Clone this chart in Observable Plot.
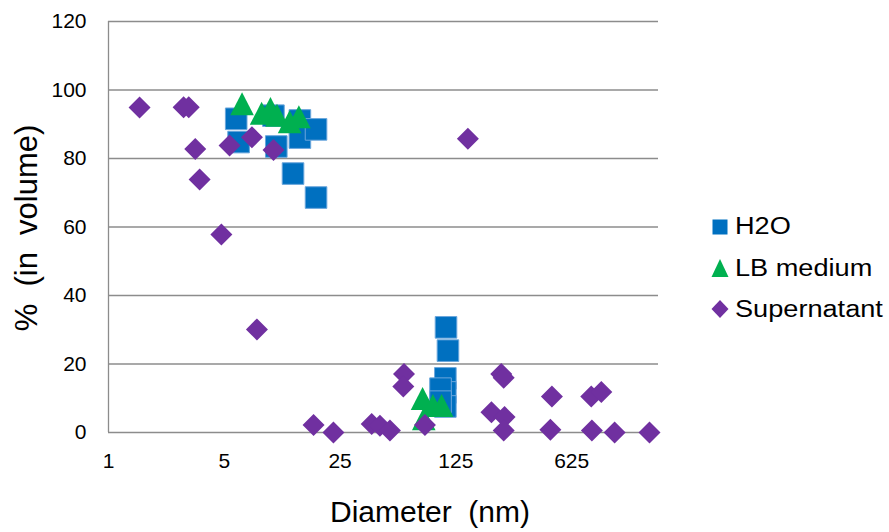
<!DOCTYPE html>
<html>
<head>
<meta charset="utf-8">
<script src="https://cdn.jsdelivr.net/npm/d3@7"></script>
<script src="https://cdn.jsdelivr.net/npm/@observablehq/plot@0.6"></script>
<style>
  html, body { margin: 0; padding: 0; background: #fff; }
  #wrap { position: relative; width: 889px; height: 532px; overflow: hidden; font-family: "Liberation Sans", Arial, sans-serif; color: #000; }
  #chart { position: absolute; left: 0; top: 0; }
  #chart svg text { font-size: 21px !important; font-family: "Liberation Sans", Arial, sans-serif !important; fill: #000; }
  .ttl { position: absolute; white-space: pre; font-family: "Liberation Sans", Arial, sans-serif; }
  .leg { position: absolute; left: 711px; font-size: 23px; white-space: pre; display: flex; align-items: center; }
  .leg svg { margin-right: 6px; }
  .leg span { display: inline-block; transform: scaleX(1.18); transform-origin: left center; }
</style>
</head>
<body>
<div id="wrap">
  <div id="chart"></div>
</div>
<script>
// ---- data ----
const seriesNames = ["H2O", "LB medium", "Supernatant"];
const seriesColors = ["#0070C0", "#00B050", "#7030A0"];

const h2oX = [5.9, 6.1, 9.9, 10.3, 14.3, 14.3, 17.9, 13.0, 17.9, 109, 112, 108, 108, 108, 101, 101];
const h2oY = [91.6, 84.8, 92.5, 83.5, 91.1, 86.1, 88.5, 75.6, 68.6, 30.7, 23.9, 15.8, 11.7, 7.6, 12.8, 9.0];

const lbX = [6.4, 8.4, 9.5, 10.4, 12.4, 14.1, 78.7, 90.8, 102.5, 80];
const lbY = [96.0, 93.2, 94.6, 92.6, 90.7, 92.2, 9.9, 7.9, 7.9, 4.0];

const snX = [1.54, 2.84, 3.05, 3.34, 3.55, 4.80, 5.38, 7.34, 9.91, 7.87, 17.3, 22.8, 38.8, 43.5, 50, 60.8, 60.2, 81.3, 147.7, 235, 243, 205, 246, 243, 475, 465, 821, 944, 828, 1136, 1844];
const snY = [94.9, 95, 95, 82.8, 73.9, 57.8, 83.8, 86.2, 82.5, 30.1, 2.2, 0, 2.5, 2, 0.6, 17.1, 13.4, 2.2, 85.8, 17.1, 16, 5.9, 4.5, 0.6, 10.5, 0.8, 10.5, 11.8, 0.6, 0, 0];

const xTicks = [1, 5, 25, 125, 625];
const yTicks = [0, 20, 40, 60, 80, 100, 120];

// ---- tables built from the arrays ----
const h2o = h2oX.map((x, i) => ({x, y: h2oY[i]}));
const lb = lbX.map((x, i) => ({x, y: lbY[i]}));
const sn = snX.map((x, i) => ({x, y: snY[i]}));

// Excel-like marker shapes
const squareSym = {draw(ctx) { const s = 10.8; ctx.rect(-s, -s, 2 * s, 2 * s); }};
const triSym = {draw(ctx) { const w = 11.8, h = 11.5; ctx.moveTo(0, -h); ctx.lineTo(w, h); ctx.lineTo(-w, h); ctx.closePath(); }};
const diaSym = {draw(ctx) { const r = 11; ctx.moveTo(0, -r); ctx.lineTo(r, 0); ctx.lineTo(0, r); ctx.lineTo(-r, 0); ctx.closePath(); }};

const gridColor = "#8c8c8c";

const chart = Plot.plot({
  width: 889,
  height: 532,
  marginLeft: 108,
  marginRight: 231,
  marginTop: 21,
  marginBottom: 100,
  style: {fontFamily: "'Liberation Sans', Arial, sans-serif", fontSize: "21px", color: "#000", background: "#fff"},
  x: {type: "log", base: 5, domain: [1, 2090]},
  y: {domain: [0, 120]},
  marks: [
    Plot.ruleY(yTicks, {stroke: gridColor, strokeWidth: 1.3}),
    Plot.ruleX([1], {stroke: gridColor, strokeWidth: 1.3}),
    Plot.axisX({ticks: xTicks, tickSize: 0, tickPadding: 21, tickFormat: d => String(d), label: null}),
    Plot.axisY({ticks: yTicks, tickSize: 0, tickPadding: 22, label: null}),
    Plot.dot(h2o, {x: "x", y: "y", symbol: squareSym, r: 1, fill: seriesColors[0], stroke: "#6aa6dc", strokeWidth: 1}),
    Plot.dot(lb, {x: "x", y: "y", symbol: triSym, r: 1, fill: seriesColors[1], stroke: "none"}),
    Plot.dot(sn, {x: "x", y: "y", symbol: diaSym, r: 1, fill: seriesColors[2], stroke: "none"})
  ]
});
document.getElementById("chart").appendChild(chart);

// ---- axis titles ----
const wrap = document.getElementById("wrap");
const xt = document.createElement("div");
xt.className = "ttl";
xt.textContent = "Diameter  (nm)";
Object.assign(xt.style, {left: "430px", top: "512px", fontSize: "30px", transform: "translate(-50%, -50%)"});
wrap.appendChild(xt);

const yt = document.createElement("div");
yt.className = "ttl";
yt.textContent = "%  (in  volume)";
Object.assign(yt.style, {left: "27px", top: "228px", fontSize: "31px", transform: "translate(-50%, -50%) rotate(-90deg)"});
wrap.appendChild(yt);

// ---- legend ----
const legendShapes = [
  '<rect x="1" y="1.5" width="15" height="15" />',
  '<path d="M8.5 0 L17 18 L0 18 Z" />',
  '<path d="M8.5 0 L17 9 L8.5 18 L0 9 Z" />'
];
const legendTops = [226.5, 268, 309];
seriesNames.forEach((name, i) => {
  const row = document.createElement("div");
  row.className = "leg";
  row.style.top = (legendTops[i] - 14) + "px";
  row.style.height = "28px";
  row.innerHTML = `<svg width="18" height="18" viewBox="0 0 17 18" style="fill:${seriesColors[i]}">${legendShapes[i]}</svg><span>${name}</span>`;
  wrap.appendChild(row);
});
</script>
</body>
</html>
